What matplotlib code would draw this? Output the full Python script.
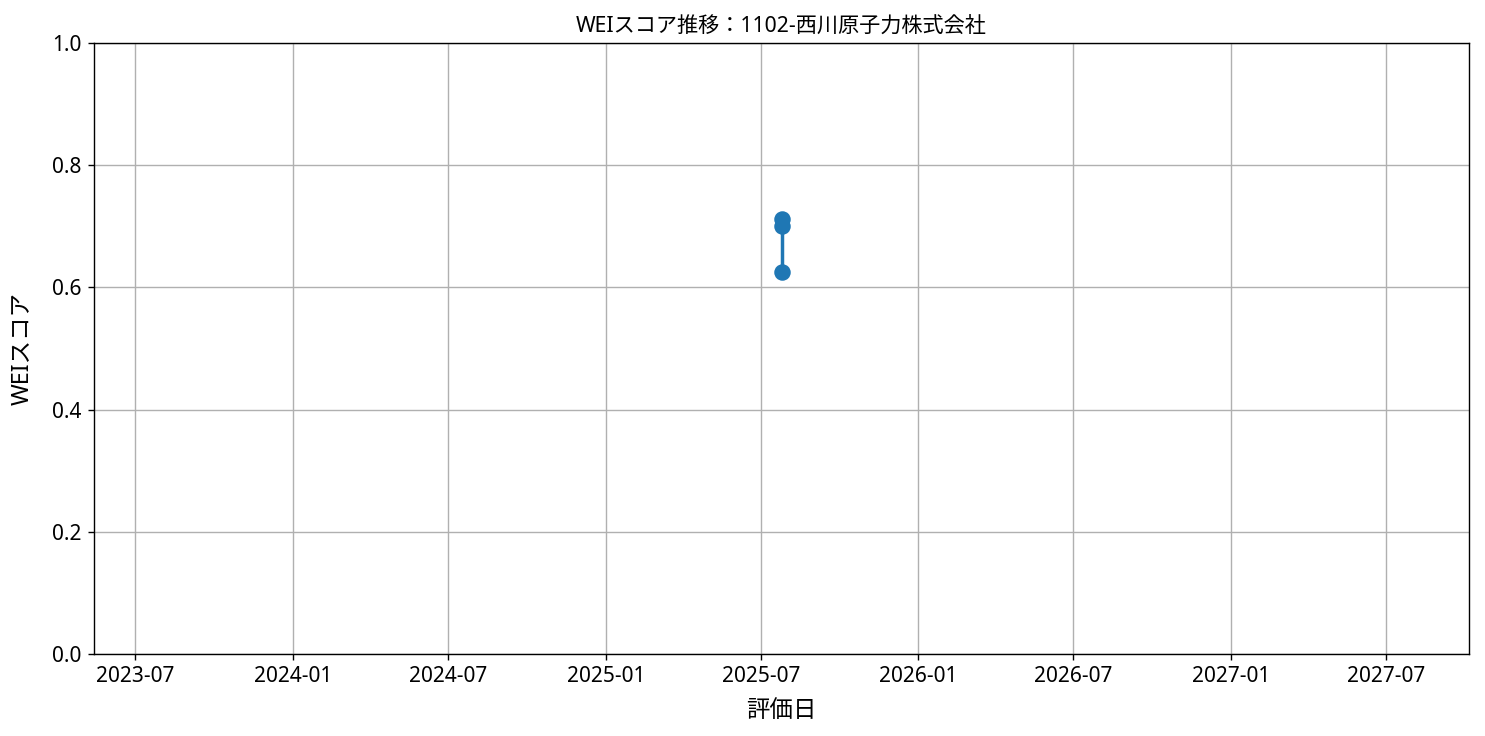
import datetime
import matplotlib
matplotlib.use("Agg")
import matplotlib.pyplot as plt

plt.rcParams['font.family'] = ['Noto Sans', 'Noto Sans CJK JP', 'DejaVu Sans']

# 評価データ
dates = [datetime.datetime(2025, 7, 25)] * 3
scores = [0.712, 0.700, 0.625]

fig = plt.figure(figsize=(11.88, 5.888), dpi=125)
ax = fig.add_axes([94 / 1485, 1 - 654 / 736, (1469 - 94) / 1485, (654 - 43) / 736])

ax.plot(dates, scores, marker='o', markersize=8.5, linewidth=2, color='#1f77b4')
ax.set_ylim(0, 1)
ax.set_title('WEIスコア推移：1102-西川原子力株式会社', fontsize=12.2)
ax.set_xlabel('評価日', fontsize=13.5, labelpad=7)
ax.set_ylabel('WEIスコア', fontsize=13.5, labelpad=10)
ax.tick_params(labelsize=12)
ax.grid(True)

fig.savefig('out.png', dpi=125)
